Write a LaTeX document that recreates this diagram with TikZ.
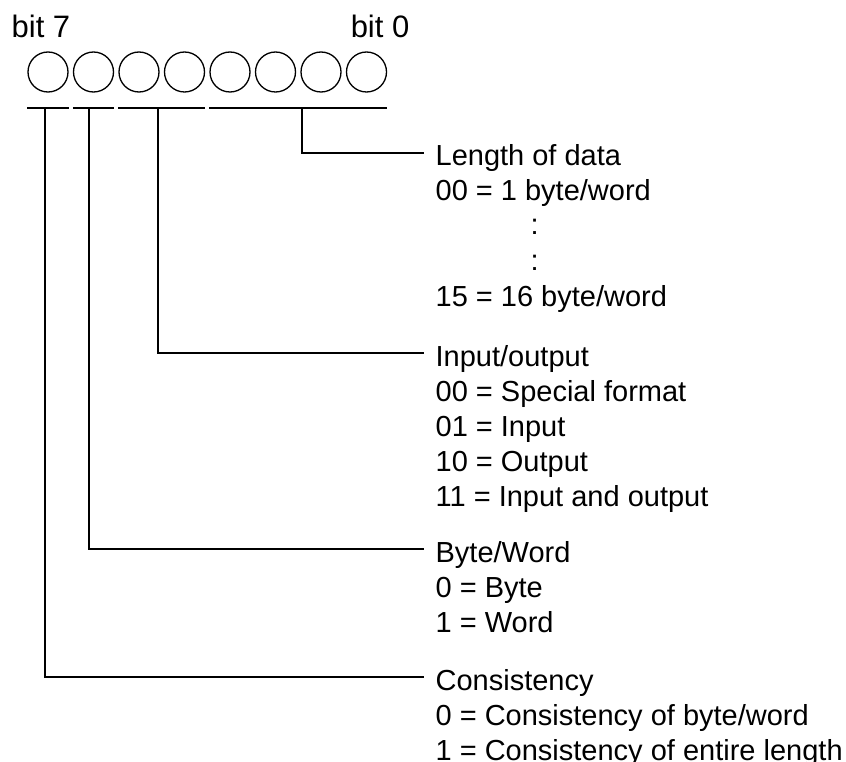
\documentclass[tikz,border=0pt]{standalone}
\usepackage{fontspec}
\setmainfont{Liberation Sans}
\begin{document}
\begin{tikzpicture}[x=1pt,y=-1pt,line width=1.3pt,
  bitc/.style={circle,draw,minimum size=40pt,inner sep=0pt},
  head/.style={anchor=west,inner xsep=11pt,inner ysep=0pt,text height=26pt,text depth=0pt},
  txt/.style={anchor=base west,inner sep=0pt},
  bitlbl/.style={inner sep=0pt,font=\fontsize{31}{37}\selectfont},
  font=\fontsize{29}{35}\selectfont]
\useasboundingbox (0,0) rectangle (846,762);
% bit labels
\node[bitlbl,anchor=base west] (b7) at (11,38) {bit 7};
\node[bitlbl,anchor=base east] (b0) at (410,38) {bit 0};
% bit circles
\foreach \i/\x in {7/48,6/93.5,5/139,4/184.5,3/230,2/275.5,1/321,0/366.5}
  \node[bitc] (c\i) at (\x,72) {};
% group bars
\coordinate (barY) at (0,108);
\draw (c7.west |- barY) -- (c7.east |- barY);
\draw (c6.west |- barY) -- (c6.east |- barY);
\draw (c5.west |- barY) -- (c4.east |- barY);
\draw (c3.west |- barY) -- (c0.east |- barY);
% drop points
\coordinate (d7) at (45,108);
\coordinate (d6) at (89,108);
\coordinate (d54) at (158,108);
\coordinate (d30) at (302,108);
% Length of data
\node[head] (len) at (424,153) {Length of data};
\node[txt] (len1) at (435,201) {00 = 1 byte/word};
\node[txt] (len2) at (530,235) {:};
\node[txt] (len3) at (530,270) {:};
\node[txt] (len4) at (435,306) {15 = 16 byte/word};
\draw (d30) |- (len.west);
% Input/output
\node[head] (io) at (424,353) {Input/output};
\node[txt] (io1) at (435,401) {00 = Special format};
\node[txt] (io2) at (435,436) {01 = Input};
\node[txt] (io3) at (435,471) {10 = Output};
\node[txt] (io4) at (435,506) {11 = Input and output};
\draw (d54) |- (io.west);
% Byte/Word
\node[head] (bw) at (424,549) {Byte/Word};
\node[txt] (bw1) at (435,597) {0 = Byte};
\node[txt] (bw2) at (435,632) {1 = Word};
\draw (d6) |- (bw.west);
% Consistency
\node[head] (con) at (424,677) {Consistency};
\node[txt] (con1) at (435,725) {0 = Consistency of byte/word};
\node[txt] (con2) at (435,760) {1 = Consistency of entire length};
\draw (d7) |- (con.west);
\end{tikzpicture}
\end{document}
